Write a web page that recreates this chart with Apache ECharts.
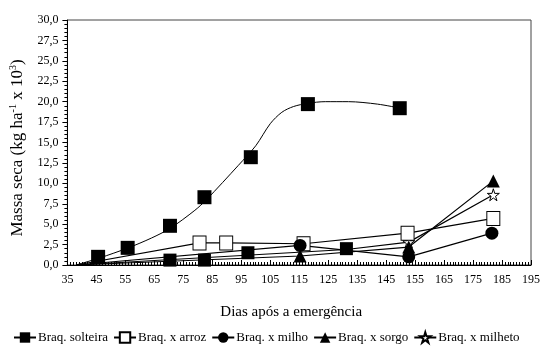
<!DOCTYPE html>
<html>
<head>
<meta charset="utf-8">
<script src="https://cdn.jsdelivr.net/npm/echarts@6/dist/echarts.min.js"></script>
<style>html,body{margin:0;padding:0;background:#fff}#c{width:543px;height:349px}</style>
</head>
<body>
<div id="c"></div>
<script>
// Axis ticks
const xMin = 35, xMax = 195, xStep = 10;
const yMin = 0, yMax = 30, yStep = 2.5;

// Braq. solteira (observed points + fitted curve)
const solteiraDays = [45.6, 55.8, 70.4, 82.3, 98.3, 118, 149.7];
const solteiraMass = [1.0, 2.1, 4.8, 8.3, 13.2, 19.7, 19.2];
const solteiraFitDays = [38, 46, 56, 64, 70.5, 79, 83, 94, 100, 105, 109, 113, 118, 124, 132, 142, 150];
const solteiraFitMass = [0, 0.85, 2.1, 3.3, 4.5, 6.7, 8.0, 12.2, 14.6, 17.3, 18.7, 19.4, 19.8, 20.0, 20.0, 19.7, 19.2];

// Intercropped series (first point = line origin, no marker)
const arrozDays = [38, 80.6, 89.8, 116.5, 152.4, 182];
const arrozMass = [0, 2.7, 2.7, 2.6, 3.9, 5.7];
const milhoDays = [38, 115.3, 152.8, 181.5];
const milhoMass = [0, 2.4, 1.0, 3.9];
const sorgoDays = [38, 115.3, 152.8, 182];
const sorgoMass = [0, 1.1, 2.2, 10.3];
const milhetoDays = [38, 131.3, 152.8, 182];
const milhetoMass = [0, 1.9, 2.8, 8.6];
// Extra filled squares near the bottom
const extraDays = [70.4, 82.3, 97.3, 131.3];
const extraMass = [0.6, 0.6, 1.5, 2.0];

const names = ['Braq. solteira', 'Braq. x arroz', 'Braq. x milho', 'Braq. x sorgo', 'Braq. x milheto'];

const starPath = 'path://M50,0 L61,35 L98,35 L68,57 L79,91 L50,70 L21,91 L32,57 L2,35 L39,35 Z';
const font = 'Liberation Serif';

function pairs(xs, ys) { return xs.map((x, i) => [x, ys[i]]); }
function withOrigin(xs, ys, hideCount) {
  return xs.map((x, i) => i < hideCount ? { value: [x, ys[i]], symbol: 'none' } : [x, ys[i]]);
}

const lineStyle = { color: '#000', width: 1.2 };

const option = {
  animation: false,
  backgroundColor: '#fff',
  textStyle: { fontFamily: font, color: '#000' },
  grid: { left: 66, right: 7, top: 20, bottom: 84, show: true, borderColor: '#444', borderWidth: 1 },
  legend: {
    data: names,
    left: 8, top: 326, width: 1200,
    itemWidth: 22, itemHeight: 13, itemGap: 5,
    textStyle: { fontFamily: font, fontSize: 13, color: '#000', padding: [0, 0, 0, -3] },
    selectedMode: false
  },
  xAxis: {
    type: 'value', min: xMin, max: xMax, interval: xStep,
    name: 'Dias após a emergência', nameLocation: 'middle', nameGap: 40,
    nameTextStyle: { fontFamily: font, fontSize: 15, color: '#000', padding: [0, 16, 0, 0] },
    axisLine: { show: true, lineStyle: { color: '#000', width: 1 } },
    axisTick: { show: true, inside: true, length: 5, lineStyle: { color: '#000' } },
    minorTick: { show: true, splitNumber: 10, length: 3, lineStyle: { color: '#000' } },
    axisLabel: { fontFamily: font, fontSize: 12, color: '#000', margin: 9, showMaxLabel: true, showMinLabel: true },
    splitLine: { show: false }
  },
  yAxis: {
    type: 'value', min: yMin, max: yMax, interval: yStep,
    name: '{n|Massa seca (kg ha}{s|-1}{n| x 10}{s|3}{n|)}', nameLocation: 'middle', nameGap: 38,
    nameTextStyle: {
      fontFamily: font, color: '#000', padding: [0, 11, 0, 0],
      rich: {
        n: { fontFamily: font, fontSize: 17, lineHeight: 20, color: '#000' },
        s: { fontFamily: font, fontSize: 10, lineHeight: 10, verticalAlign: 'top', color: '#000' }
      }
    },
    axisLine: { show: true, lineStyle: { color: '#000', width: 1 } },
    axisTick: { show: true, inside: false, length: 5, lineStyle: { color: '#000' } },
    minorTick: { show: true, splitNumber: 5, length: 3, lineStyle: { color: '#000' } },
    axisLabel: { fontFamily: font, fontSize: 12, color: '#000', margin: 9,
      formatter: v => v.toFixed(1).replace('.', ',') },
    splitLine: { show: false }
  },
  series: [
    { name: names[0], type: 'line', data: pairs(solteiraFitDays, solteiraFitMass), smooth: 0.3,
      showSymbol: false, symbol: 'rect', symbolSize: 14, lineStyle: { color: '#000', width: 1 },
      itemStyle: { color: '#000' }, z: 2 },
    { name: names[0], type: 'scatter', data: pairs(solteiraDays, solteiraMass),
      symbol: 'rect', symbolSize: 14, itemStyle: { color: '#000', opacity: 1 }, z: 5 },
    { name: 'extra', type: 'scatter', data: pairs(extraDays, extraMass),
      symbol: 'rect', symbolSize: 13, itemStyle: { color: '#000', opacity: 1 }, z: 3 },
    { name: names[1], type: 'line', data: withOrigin(arrozDays, arrozMass, 1),
      symbol: 'rect', symbolSize: [13, 14], lineStyle: lineStyle,
      itemStyle: { color: '#fff', borderColor: '#000', borderWidth: 1 }, z: 4 },
    { name: names[4], type: 'line', data: withOrigin(milhetoDays, milhetoMass, 2),
      symbol: starPath, symbolSize: 12, lineStyle: lineStyle,
      itemStyle: { color: '#fff', borderColor: '#000', borderWidth: 1 }, z: 3 },
    { name: names[3], type: 'line', data: withOrigin(sorgoDays, sorgoMass, 1),
      symbol: 'triangle', symbolSize: 13, lineStyle: lineStyle,
      itemStyle: { color: '#000' }, z: 4 },
    { name: names[2], type: 'line', data: withOrigin(milhoDays, milhoMass, 1),
      symbol: 'circle', symbolSize: 13, lineStyle: lineStyle,
      itemStyle: { color: '#000' }, z: 4 }
  ]
};

const chart = echarts.init(document.getElementById('c'), null, { renderer: 'canvas' });
chart.setOption(option);
</script>
</body>
</html>
